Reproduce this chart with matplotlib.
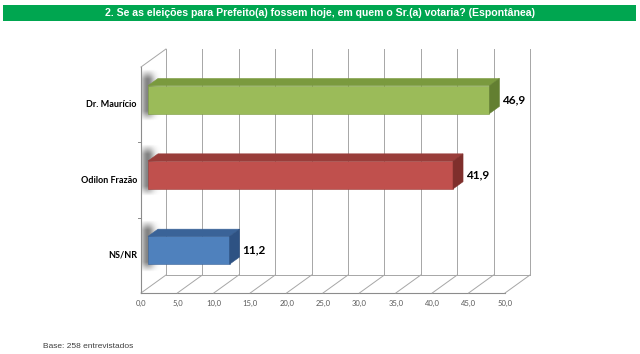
import matplotlib
matplotlib.use('Agg')
import matplotlib.pyplot as plt
from matplotlib.patches import Rectangle, Polygon
import numpy as np

# data
categories = ['NS/NR', 'Odilon Frazão', 'Dr. Maurício']
values = [11.2, 41.9, 46.9]
value_labels = ['11,2', '41,9', '46,9']
ticks = [0, 5, 10, 15, 20, 25, 30, 35, 40, 45, 50]
tick_labels = ['0,0', '5,0', '10,0', '15,0', '20,0', '25,0', '30,0', '35,0', '40,0', '45,0', '50,0']
title = '2. Se as eleições para Prefeito(a) fossem hoje, em quem o Sr.(a) votaria? (Espontânea)'
note = 'Base: 258 entrevistados'

# colours of the faces: front, top, side
front_cols = ['#4F81BD', '#C0504D', '#9BBB59']
top_cols = ['#3A6398', '#993D3A', '#7A9A3E']
side_cols = ['#2E5283', '#7F2F2C', '#637F31']

# depth of the 3d box in data units (x shift, y shift)
DX, DY = 3.43, 0.239
d0, d1 = 0.28, 0.68   # bar depth range (fraction of full depth)
bar_h = 0.37

fig = plt.figure(figsize=(6.4, 3.54), dpi=100)
fig.patch.set_facecolor('white')

# title band
fig.patches.append(Rectangle((3 / 640, 333 / 354), 633 / 640, 16 / 354, transform=fig.transFigure,
                             facecolor='#00A650', edgecolor='none'))
fig.text(0.5, 341 / 354, title, ha='center', va='center', color='white', fontsize=7.6,
         fontweight='bold', family=['Liberation Sans', 'DejaVu Sans'])
fig.text(43 / 640, 8 / 354, note, ha='left', va='center', fontsize=6,
         color='#404040', family=['Liberation Sans', 'DejaVu Sans'])

ax = fig.add_axes([141 / 640, 61 / 354, 389 / 640, 244 / 354])
ax.set_xlim(0, 50 + DX)
ax.set_ylim(-0.5, 2.5 + DY)
ax.axis('off')

grid_c = '#A6A6A6'
y0, y1 = -0.5, len(categories) - 0.5
# floor
ax.plot([0, 50], [y0, y0], color='#8C8C8C', lw=0.8, clip_on=False)
ax.plot([DX, 50 + DX], [y0 + DY, y0 + DY], color=grid_c, lw=0.7, clip_on=False)
for t, lab in zip(ticks, tick_labels):
    ax.plot([t, t + DX], [y0, y0 + DY], color=grid_c, lw=0.7, clip_on=False)
    ax.plot([t + DX, t + DX], [y0 + DY, y1 + DY], color=grid_c, lw=0.7, clip_on=False)
    ax.text(t, y0 - 0.14, lab, ha='center', va='center', fontsize=5.5, color='#595959',
            family=['Lato', 'DejaVu Sans'])
# side wall
ax.plot([0, 0], [y0, y1], color='#8C8C8C', lw=0.8, clip_on=False)
ax.plot([0, DX], [y1, y1 + DY], color=grid_c, lw=0.7, clip_on=False)
for k in range(1, len(categories)):
    ax.plot([-0.4, 0], [k - 0.5, k - 0.5], color='#8C8C8C', lw=0.7, clip_on=False)

# soft shadows next to the bars
xs = np.linspace(0, 1, 60)
ys = np.linspace(0, 1, 60)
gx, gy = np.meshgrid(xs, ys)
shadow = np.zeros((60, 60, 4))
shadow[..., :3] = 0.3
shadow[..., 3] = 0.7 * np.exp(-((gx - 0.3) / 0.35) ** 2) * np.clip(np.sin(np.pi * gy) * 1.8, 0, 1)

for i, (cat, v) in enumerate(zip(categories, values)):
    yb = i - bar_h / 2 + d0 * DY
    yt = yb + bar_h
    xl = d0 * DX
    ddx = (d1 - d0) * DX
    ddy = (d1 - d0) * DY
    ax.imshow(shadow, extent=[0.2, 2.8, yb - 0.1, yt + 0.22], aspect='auto', zorder=1,
              interpolation='bilinear')
    # front face
    ax.barh(yb + bar_h / 2, v, height=bar_h, left=xl, color=front_cols[i], zorder=3,
            edgecolor=top_cols[i], linewidth=0.4)
    # top face
    ax.add_patch(Polygon([(xl, yt), (xl + v, yt), (xl + v + ddx, yt + ddy), (xl + ddx, yt + ddy)],
                         closed=True, facecolor=top_cols[i], edgecolor=top_cols[i], lw=0.4, zorder=3))
    # side face
    ax.add_patch(Polygon([(xl + v, yb), (xl + v + ddx, yb + ddy), (xl + v + ddx, yt + ddy), (xl + v, yt)],
                         closed=True, facecolor=side_cols[i], edgecolor=side_cols[i], lw=0.4, zorder=3))
    ax.text(xl + v + ddx + 0.4, yb + bar_h / 2, value_labels[i], ha='left', va='center',
            fontsize=8.5, fontweight='bold', color='black', family=['Lato', 'DejaVu Sans'])
    ax.text(-0.55, i, cat, ha='right', va='center', fontsize=6.5, fontweight='bold',
            color='black', family=['Lato', 'DejaVu Sans'])

fig.savefig('out.png', dpi=100)
